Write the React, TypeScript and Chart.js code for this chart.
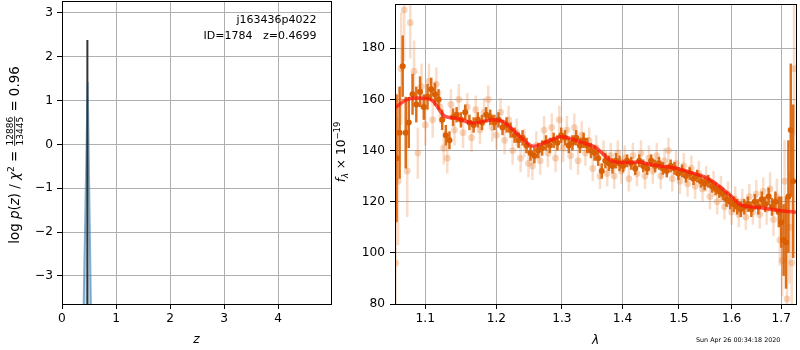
import React, { useEffect, useRef } from "react";
import { Chart, registerables } from "chart.js";
Chart.register(...registerables);

const FONT = '"DejaVu Sans", "Noto Sans", sans-serif';
const TICK_SIZE = 12.2;

// ---------- left panel: log p(z)
const zTicks = [0, 1, 2, 3, 4];
const logpTicks = [-3, -2, -1, 0, 1, 2, 3];
const zMin = 0;
const zMax = 4.98;
const logpMin = -3.64;
const logpMax = 3.27;
const pzZ = [0.36, 0.4, 0.476, 0.535, 0.575];
const pzLogp = [-5.8, -3.7, 1.42, -3.7, -5.8];
const zFitX = [0.4699, 0.4699];
const zFitY = [-4.5, 2.38];
const objName = "j163436p4022";
const objInfo = "ID=1784   z=0.4699";
const chiNum = "12886";
const chiDen = "13445";
const chiRatio = "0.96";

// ---------- right panel: spectrum
const lamTicks = [1.1, 1.2, 1.3, 1.4, 1.5, 1.6, 1.7];
const lamMin = 1.06;
const lamMax = 1.731;
const fluxTicks = [80, 100, 120, 140, 160, 180];
const fluxMin = 80;
const fluxMax = 197.3;
const timeStamp = "Sun Apr 26 00:34:18 2020";

const darkLam = [
  1.062, 1.066, 1.07, 1.074, 1.078, 1.083, 1.088, 1.093, 1.098, 1.103,
  1.108, 1.113, 1.118, 1.123, 1.128, 1.133, 1.138, 1.143, 1.149, 1.155,
  1.161, 1.167, 1.173, 1.179, 1.185, 1.191, 1.197, 1.203, 1.209, 1.215,
  1.221, 1.227, 1.233, 1.239, 1.245, 1.251, 1.257, 1.263, 1.269, 1.275,
  1.281, 1.287, 1.293, 1.299, 1.305, 1.311, 1.317, 1.323, 1.329, 1.335,
  1.341, 1.347, 1.353, 1.359, 1.365, 1.371, 1.377, 1.383, 1.389, 1.395,
  1.401, 1.408, 1.415, 1.422, 1.429, 1.436, 1.443, 1.45, 1.457, 1.464,
  1.471, 1.478, 1.485, 1.492, 1.499, 1.506, 1.513, 1.52, 1.527, 1.534,
  1.541, 1.548, 1.555, 1.562, 1.569, 1.576, 1.583, 1.59, 1.597, 1.604,
  1.611, 1.618, 1.625, 1.632, 1.639, 1.646, 1.653, 1.66, 1.667, 1.674,
  1.681, 1.688, 1.695, 1.7, 1.705, 1.71, 1.715, 1.72, 1.725,
];
const darkFlux = [
  137, 147, 173, 147, 151, 162, 158, 163, 157, 161,
  164, 162, 160, 152, 146, 144, 153, 154, 152, 155,
  151, 150, 152, 151, 154, 153, 151, 152, 149, 150,
  148, 146, 144, 145, 142, 139, 138, 140, 141, 143,
  142, 144, 143, 146, 145, 142, 143, 145, 142, 144,
  142, 140, 139, 137, 132, 136, 135, 134, 136, 135,
  134, 136, 135, 133, 136, 134, 133, 136, 134, 135,
  133, 132, 134, 133, 131, 132, 130, 131, 129, 130,
  128, 127, 128, 126, 125, 124, 123, 121, 120, 119,
  118, 117, 118, 119, 117, 120, 118, 121, 119, 122,
  118, 120, 116, 112, 105, 104, 122, 148, 128,
];
const darkErr = [
  25, 18, 12, 14, 10, 8, 7, 6, 5, 5,
  4.5, 4.5, 4, 4, 4, 3.5, 3.5, 3, 3, 3,
  3, 3, 3, 3, 3, 3, 3, 3, 3, 3,
  3, 3, 3, 3, 3, 3, 3, 3, 3, 3,
  3, 3, 3, 3, 3, 3, 3, 3, 3, 3,
  3, 3, 3, 3, 3, 3, 3, 3, 3, 3,
  2.5, 2.5, 2.5, 2.5, 2.5, 2.5, 2.5, 2.5, 2.5, 2.5,
  2.5, 2.5, 2.5, 2.5, 2.5, 2.5, 2.5, 2.5, 2.5, 2.5,
  2.5, 2.5, 2.5, 2.5, 2.5, 2.5, 2.5, 3, 3, 3,
  3, 3, 3, 3, 3, 3, 3, 3, 3, 3.5,
  3.5, 4, 6, 10, 14, 18, 22, 26, 30,
];

const lightLam = [
  1.061, 1.064, 1.068, 1.072, 1.076, 1.08, 1.085, 1.09, 1.095, 1.1,
  1.105, 1.11, 1.115, 1.12, 1.125, 1.13, 1.135, 1.14, 1.146, 1.152,
  1.158, 1.164, 1.17, 1.176, 1.182, 1.188, 1.194, 1.2, 1.206, 1.212,
  1.218, 1.224, 1.23, 1.236, 1.242, 1.248, 1.254, 1.26, 1.266, 1.272,
  1.278, 1.284, 1.29, 1.296, 1.302, 1.308, 1.314, 1.32, 1.326, 1.332,
  1.338, 1.344, 1.35, 1.356, 1.362, 1.368, 1.374, 1.38, 1.386, 1.392,
  1.398, 1.404, 1.411, 1.418, 1.425, 1.432, 1.439, 1.446, 1.453, 1.46,
  1.467, 1.474, 1.481, 1.488, 1.495, 1.502, 1.509, 1.516, 1.523, 1.53,
  1.537, 1.544, 1.551, 1.558, 1.565, 1.572, 1.579, 1.586, 1.593, 1.6,
  1.607, 1.614, 1.621, 1.628, 1.635, 1.642, 1.649, 1.656, 1.663, 1.67,
  1.677, 1.684, 1.691, 1.697, 1.702, 1.707, 1.712, 1.717, 1.722, 1.727,
];
const lightFlux = [
  96, 128, 172, 195, 132, 190, 171, 139, 165, 150,
  167, 152, 166, 157, 141, 137, 158, 148, 160, 147,
  157, 145, 156, 148, 155, 160, 149, 146, 155, 144,
  152, 140, 147, 137, 143, 135, 134, 142, 136, 148,
  139, 149, 137, 152, 141, 148, 138, 149, 136, 146,
  139, 144, 133, 141, 130, 139, 131, 138, 130, 139,
  132, 137, 129, 138, 131, 139, 130, 137, 132, 138,
  130, 136, 140, 129, 135, 128, 134, 127, 133, 126,
  131, 125, 129, 122, 127, 120, 125, 118, 123, 116,
  121, 115, 120, 114, 122, 116, 123, 115, 124, 117,
  125, 113, 122, 105, 97, 128, 82, 110, 96, 172,
];
const lightErr = [
  22, 25, 22, 20, 18, 14, 12, 10, 9, 8,
  7, 7, 6.5, 6.5, 6.5, 6, 6, 6, 6, 6,
  5.5, 5.5, 5.5, 5.5, 5.5, 5.5, 5.5, 5.5, 5.5, 5.5,
  5.5, 5.5, 5.5, 5.5, 5.5, 5.5, 5.5, 5.5, 5.5, 5.5,
  5.5, 5.5, 5.5, 5.5, 5.5, 5.5, 5.5, 5.5, 5.5, 5.5,
  5, 5, 5, 5, 5, 5, 5, 5, 5, 5,
  5, 5, 5, 5, 5, 5, 5, 5, 5, 5,
  5, 5, 5, 5, 5, 5, 5, 5, 5, 5,
  5, 5, 5, 5, 5, 5, 5, 5, 5, 5,
  5, 5, 5, 5, 5, 5, 5.5, 5.5, 5.5, 6,
  6.5, 6.5, 7, 10, 14, 16, 20, 22, 25, 26,
];

const modelLam = [
  1.06, 1.077, 1.1, 1.111, 1.126, 1.143, 1.166, 1.194, 1.21, 1.229,
  1.254, 1.274, 1.3, 1.332, 1.354, 1.382, 1.41, 1.43, 1.45, 1.497,
  1.52, 1.548, 1.573, 1.6, 1.618, 1.658, 1.7, 1.731,
];
const modelFlux = [
  156.7, 160.1, 160.4, 159.2, 153.5, 152.6, 150.8, 152.0, 151.3, 147.0,
  141.7, 143.2, 145.4, 143.2, 141.3, 135.9, 135.3, 135.5, 134.5, 133.0,
  131.5, 129.7, 126.5, 122.0, 118.8, 117.6, 116.5, 115.9,
];

// ---------- helpers
type Seg =
  | { t: string; sz: number; it?: boolean; dy?: number }
  | { frac: [string, string]; sz: number };

function setFont(ctx: CanvasRenderingContext2D, sz: number, it?: boolean) {
  ctx.font = `${it ? "italic " : ""}${sz}px ${FONT}`;
}
function segW(ctx: CanvasRenderingContext2D, s: Seg): number {
  if ("frac" in s) {
    setFont(ctx, s.sz);
    return Math.max(ctx.measureText(s.frac[0]).width, ctx.measureText(s.frac[1]).width) + 2;
  }
  setFont(ctx, s.sz, s.it);
  return ctx.measureText(s.t).width;
}
function drawRich(ctx: CanvasRenderingContext2D, segs: Seg[], cx: number, cy: number, rot: number) {
  ctx.save();
  ctx.translate(cx, cy);
  ctx.rotate(rot);
  ctx.fillStyle = "#000";
  ctx.textBaseline = "alphabetic";
  const W = segs.reduce((a, s) => a + segW(ctx, s), 0);
  let x = -W / 2;
  for (const s of segs) {
    const w = segW(ctx, s);
    if ("frac" in s) {
      setFont(ctx, s.sz);
      const axis = -4.3;
      ctx.textAlign = "center";
      ctx.fillText(s.frac[0], x + w / 2, axis - 1.7);
      ctx.fillText(s.frac[1], x + w / 2, axis + 1.7 + s.sz * 0.73);
      ctx.fillRect(x + 0.5, axis - 0.4, w - 1, 0.8);
    } else {
      setFont(ctx, s.sz, s.it);
      ctx.textAlign = "left";
      ctx.fillText(s.t, x, s.dy ? -s.dy : 0);
    }
    x += w;
  }
  ctx.restore();
}

function fmtMinus(v: number, digits = 0) {
  const s = Math.abs(v).toFixed(digits);
  return v < 0 ? "\u2212" + s : s;
}

function frame(chart: any) {
  const { ctx, chartArea: a } = chart;
  ctx.save();
  ctx.strokeStyle = "#000";
  ctx.lineWidth = 1;
  ctx.strokeRect(a.left + 0.5, a.top + 0.5, a.right - a.left, a.bottom - a.top);
  ctx.restore();
}

function axisCommon(ticksArr: number[], fmt: (v: number) => string, fixSize: (s: any) => void, padding: number) {
  return {
    grid: { color: "#b0b0b0", lineWidth: 1, tickLength: 5, tickColor: "#000", drawTicks: true },
    border: { display: false },
    ticks: {
      color: "#000",
      font: { family: FONT, size: TICK_SIZE },
      padding,
      autoSkip: false,
      maxRotation: 0,
      callback: (v: any) => fmt(Number(v)),
    },
    afterBuildTicks: (s: any) => {
      s.ticks = ticksArr.map((v) => ({ value: v }));
    },
    afterFit: (s: any) => {
      fixSize(s);
      s.paddingTop = 0;
      s.paddingBottom = 0;
      s.paddingLeft = 0;
      s.paddingRight = 0;
    },
  };
}

const errPlugin = {
  id: "errbars",
  beforeDatasetDraw(chart: any, args: any) {
    const ds = chart.data.datasets[args.index];
    if (!ds.errs) return;
    const { ctx, chartArea: a, scales } = chart;
    ctx.save();
    ctx.beginPath();
    ctx.rect(a.left, a.top, a.right - a.left, a.bottom - a.top);
    ctx.clip();
    ctx.strokeStyle = ds.errColor;
    ctx.lineWidth = ds.errWidth;
    ds.data.forEach((p: any, i: number) => {
      const x = scales.x.getPixelForValue(p.x);
      ctx.beginPath();
      ctx.moveTo(x, scales.y.getPixelForValue(p.y - ds.errs[i]));
      ctx.lineTo(x, scales.y.getPixelForValue(p.y + ds.errs[i]));
      ctx.stroke();
    });
    ctx.restore();
  },
};

export default function App() {
  const leftRef = useRef<HTMLCanvasElement>(null);
  const rightRef = useRef<HTMLCanvasElement>(null);

  useEffect(() => {
    const leftTexts = {
      id: "leftTexts",
      afterDraw(chart: any) {
        const { ctx, chartArea: a } = chart;
        frame(chart);
        ctx.save();
        ctx.fillStyle = "#000";
        ctx.font = `11px ${FONT}`;
        ctx.textAlign = "right";
        ctx.textBaseline = "alphabetic";
        ctx.fillText(objName, 316.5, 23);
        ctx.fillText(objInfo, 316.5, 39);
        ctx.font = `italic 12.2px ${FONT}`;
        ctx.textAlign = "center";
        ctx.fillText("z", (a.left + a.right) / 2, 343);
        ctx.restore();
        const S = 13.4;
        drawRich(
          ctx,
          [
            { t: "log ", sz: S },
            { t: "p", sz: S, it: true },
            { t: "(", sz: S },
            { t: "z", sz: S, it: true },
            { t: ") / ", sz: S },
            { t: "\u03c7", sz: S, it: true },
            { t: "2", sz: 9.2, dy: 5.5 },
            { t: " = ", sz: S },
            { frac: [chiNum, chiDen], sz: 9 },
            { t: " = " + chiRatio, sz: S },
          ],
          19,
          155,
          -Math.PI / 2
        );
      },
    };

    const rightTexts = {
      id: "rightTexts",
      afterDraw(chart: any) {
        const { ctx, chartArea: a } = chart;
        frame(chart);
        ctx.save();
        ctx.fillStyle = "#000";
        ctx.font = `italic 12.2px ${FONT}`;
        ctx.textAlign = "center";
        ctx.textBaseline = "alphabetic";
        ctx.fillText("\u03bb", (a.left + a.right) / 2, 344);
        ctx.font = `6.4px ${FONT}`;
        ctx.textAlign = "left";
        ctx.fillText(timeStamp, 696 - 332, 341.5);
        ctx.restore();
        const S = 12.2;
        drawRich(
          ctx,
          [
            { t: "f", sz: S, it: true },
            { t: "\u03bb", sz: 8.5, it: true, dy: -3 },
            { t: " \u00d7 10", sz: S },
            { t: "\u221219", sz: 8.5, dy: 5 },
          ],
          13,
          152,
          -Math.PI / 2
        );
      },
    };

    const left = new Chart(leftRef.current!, {
      type: "scatter",
      data: {
        datasets: [
          {
            data: zFitX.map((x, i) => ({ x, y: zFitY[i] })),
            showLine: true,
            borderColor: "#333333",
            borderWidth: 2,
            pointRadius: 0,
            order: 0,
            clip: 0,
          } as any,
          {
            data: pzZ.map((x, i) => ({ x, y: pzLogp[i] })),
            showLine: true,
            borderColor: "rgba(31,119,180,0.55)",
            backgroundColor: "rgba(31,119,180,0.25)",
            borderWidth: 2,
            fill: "start",
            pointRadius: 0,
            order: 1,
            clip: 0,
          } as any,
        ],
      },
      options: {
        responsive: false,
        animation: false,
        devicePixelRatio: 1,
        events: [],
        layout: { padding: { left: 0, right: 1, top: 1, bottom: 0 } },
        plugins: { legend: { display: false }, tooltip: { enabled: false } },
        scales: {
          x: {
            type: "linear",
            min: zMin,
            max: zMax,
            ...axisCommon(zTicks, (v) => fmtMinus(v), (s) => (s.height = 46), 3),
          } as any,
          y: {
            type: "linear",
            min: logpMin,
            max: logpMax,
            ...axisCommon(logpTicks, (v) => fmtMinus(v), (s) => (s.width = 62), 4),
          } as any,
        },
      },
      plugins: [leftTexts],
    });

    const right = new Chart(rightRef.current!, {
      type: "scatter",
      data: {
        datasets: [
          {
            data: modelLam.map((x, i) => ({ x, y: modelFlux[i] })),
            showLine: true,
            borderColor: "rgba(255,20,10,0.72)",
            borderWidth: 3.5,
            pointRadius: 0,
            tension: 0.3,
            order: 0,
            clip: 0,
          } as any,
          {
            data: darkLam.map((x, i) => ({ x, y: darkFlux[i] })),
            errs: darkErr,
            errColor: "rgba(217,95,2,0.9)",
            errWidth: 2.5,
            pointRadius: 3,
            pointBorderWidth: 0,
            backgroundColor: "rgb(217,95,2)",
            borderColor: "rgb(217,95,2)",
            order: 1,
            clip: 0,
          } as any,
          {
            data: lightLam.map((x, i) => ({ x, y: lightFlux[i] })),
            errs: lightErr,
            errColor: "rgba(230,120,40,0.25)",
            errWidth: 2.5,
            pointRadius: 3.4,
            pointBorderWidth: 0,
            backgroundColor: "rgba(230,120,40,0.3)",
            borderColor: "rgba(230,120,40,0.3)",
            order: 2,
            clip: 0,
          } as any,
        ],
      },
      options: {
        responsive: false,
        animation: false,
        devicePixelRatio: 1,
        events: [],
        layout: { padding: { left: 0, right: 1, top: 1, bottom: 0 } },
        plugins: { legend: { display: false }, tooltip: { enabled: false } },
        scales: {
          x: {
            type: "logarithmic",
            min: lamMin,
            max: lamMax,
            ...axisCommon(lamTicks, (v) => v.toFixed(1), (s) => (s.height = 46), 3),
          } as any,
          y: {
            type: "linear",
            min: fluxMin,
            max: fluxMax,
            ...axisCommon(fluxTicks, (v) => fmtMinus(v), (s) => (s.width = 63), 5),
          } as any,
        },
      },
      plugins: [errPlugin, rightTexts],
    });

    return () => {
      left.destroy();
      right.destroy();
    };
  }, []);

  return (
    <div style={{ position: "fixed", left: 0, top: 0, width: 800, height: 350, background: "#fff" }}>
      <canvas
        ref={leftRef}
        width={332}
        height={350}
        style={{ position: "absolute", left: 0, top: 0, width: 332, height: 350 }}
      />
      <canvas
        ref={rightRef}
        width={468}
        height={350}
        style={{ position: "absolute", left: 332, top: 0, width: 468, height: 350 }}
      />
    </div>
  );
}
